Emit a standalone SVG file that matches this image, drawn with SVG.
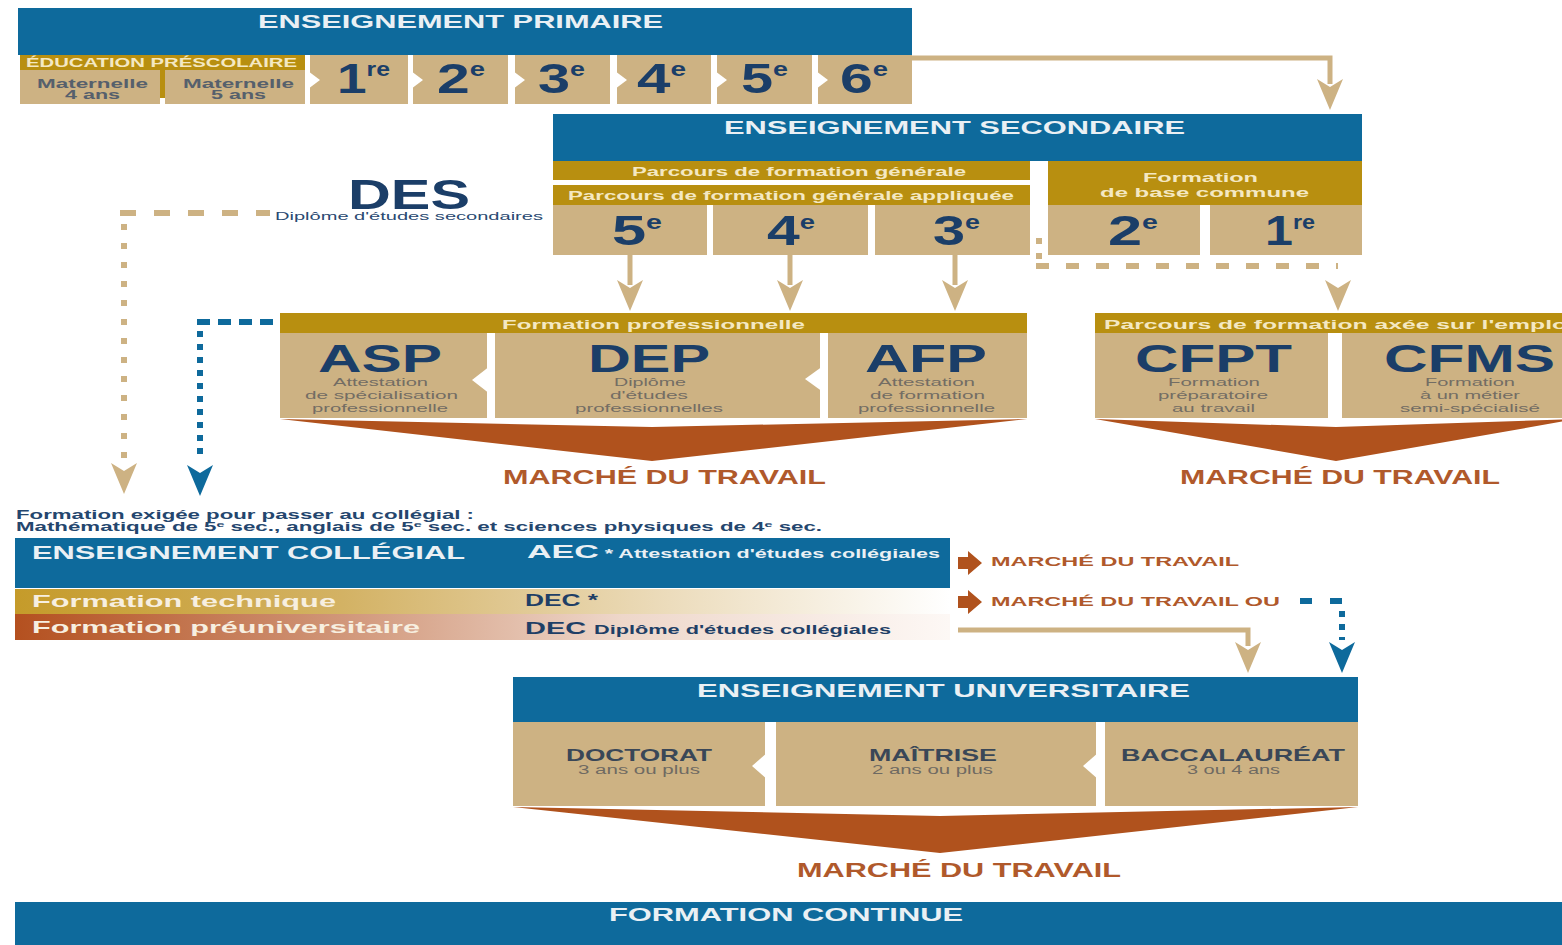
<svg xmlns="http://www.w3.org/2000/svg" width="1562" height="945" viewBox="0 0 1562 945">
<style>
text{font-family:"Liberation Sans",Arial,sans-serif}
.blue{fill:#0e6a9c}
.tan{fill:#cdb283}
.gold{fill:#b88f10}
.rust{fill:#b0521d}
.wh{fill:#ffffff}
.hd{font-weight:bold;font-size:19px;fill:#eaf0f4}
.gb{font-weight:bold;font-size:12px;fill:#f4e8c2}
.num{font-weight:bold;font-size:43px;fill:#1b3e68}
.sup{font-size:20px}
.acr{font-weight:bold;font-size:38px;fill:#1b3e68}
.sub{font-size:11.5px;fill:#736d64}
.mat{font-weight:bold;font-size:12.5px;fill:#56606c}
.mdt{font-weight:bold;font-size:20px;fill:#b0592b}
.mds{font-weight:bold;font-size:13px;fill:#b0592b}
.note{font-weight:bold;font-size:12.5px;fill:#24466e}
.ct{font-weight:bold;font-size:17px;fill:#f7efe0}
.dec{font-weight:bold;font-size:16px;fill:#1f3f66}
.decs{font-size:12px}
.uni{font-weight:bold;font-size:17px;fill:#3a4757}
.unis{font-size:12px;fill:#6f6a62}
.ctan{fill:none;stroke:#cdb283;stroke-width:5}
.dtan{fill:none;stroke:#cdb283;stroke-width:6}
.dblue{fill:none;stroke:#0e6a9c;stroke-width:6}
.ahT{fill:#cdb283}
.ahB{fill:#0e6a9c}
</style>
<defs>
<path id="ah" d="M-13,0 L0,8 L13,0 L0,31 Z"/>
<path id="ra" d="M0,6 L10,6 L10,0 L24,12 L10,24 L10,18 L0,18 Z"/>
<linearGradient id="gTech" x1="0" y1="0" x2="1" y2="0">
<stop offset="0" stop-color="#c59b2a"/>
<stop offset="0.35" stop-color="#d3b264"/>
<stop offset="0.7" stop-color="#ecdcbc"/>
<stop offset="1" stop-color="#ffffff"/>
</linearGradient>
<linearGradient id="gPre" x1="0" y1="0" x2="1" y2="0">
<stop offset="0" stop-color="#b4501f"/>
<stop offset="0.3" stop-color="#cc8c6c"/>
<stop offset="0.65" stop-color="#eed7ca"/>
<stop offset="1" stop-color="#fdf8f5"/>
</linearGradient>
</defs>
<rect width="1562" height="945" fill="#ffffff"/>

<g id="connectors">
<path class="ctan" d="M912,58 H1330 V84"/>
<use href="#ah" x="1330" y="79" class="ahT"/>
<path class="ctan" d="M630,255 V285"/>
<use href="#ah" x="630" y="280" class="ahT"/>
<path class="ctan" d="M790,255 V285"/>
<use href="#ah" x="790" y="280" class="ahT"/>
<path class="ctan" d="M955,255 V285"/>
<use href="#ah" x="955" y="280" class="ahT"/>
<path class="dtan" stroke-dasharray="6 9" d="M1039,238 V262"/>
<path class="dtan" stroke-dasharray="13 17" d="M1036,266 H1338"/>
<use href="#ah" x="1338" y="280" class="ahT"/>
<path class="dtan" stroke-dasharray="16 18" d="M120,213 H270"/>
<path class="dtan" stroke-dasharray="6 13" d="M124,224 V458"/>
<use href="#ah" x="124" y="463" class="ahT"/>
<path class="dblue" stroke-dasharray="13 8" d="M197,322 H276"/>
<path class="dblue" stroke-dasharray="6 7" d="M200,331 V458"/>
<use href="#ah" x="200" y="465" class="ahB"/>
<path class="ctan" d="M958,630 H1248 V646"/>
<use href="#ah" x="1248" y="642" class="ahT"/>
<path class="dblue" stroke-dasharray="12 18" d="M1300,601 H1345"/>
<path class="dblue" stroke-dasharray="6 7" d="M1342,611 V640"/>
<use href="#ah" x="1342" y="642" class="ahB"/>
</g>

<g id="primaire">
<rect class="blue" x="18" y="8" width="894" height="47"/>
<text class="hd" x="258" y="28" textLength="405" lengthAdjust="spacingAndGlyphs">ENSEIGNEMENT PRIMAIRE</text>
</g>
<g id="prescolaire">
<rect class="gold" x="20" y="55" width="285" height="15"/>
<text class="gb" x="26" y="67" font-size="11" textLength="271" lengthAdjust="spacingAndGlyphs">ÉDUCATION PRÉSCOLAIRE</text>
<rect class="tan" x="20" y="70" width="140" height="34"/>
<rect class="gold" x="160" y="70" width="5" height="28"/>
<rect class="tan" x="165" y="70" width="140" height="34"/>
<text class="mat" x="37" y="88" textLength="111" lengthAdjust="spacingAndGlyphs">Maternelle</text>
<text class="mat" x="65" y="99" textLength="55" lengthAdjust="spacingAndGlyphs">4 ans</text>
<text class="mat" x="183" y="88" textLength="111" lengthAdjust="spacingAndGlyphs">Maternelle</text>
<text class="mat" x="211" y="99" textLength="55" lengthAdjust="spacingAndGlyphs">5 ans</text>
</g>
<g id="p1"><rect class="tan" x="310" y="55" width="98" height="49"/><path class="wh" d="M308,71 L320,80 L308,89 Z"/><text class="num" x="337" y="93" textLength="53" lengthAdjust="spacingAndGlyphs">1<tspan class="sup" dy="-17">re</tspan></text></g>
<g id="p2"><rect class="tan" x="413" y="55" width="95" height="49"/><path class="wh" d="M411,71 L423,80 L411,89 Z"/><text class="num" x="437" y="93" textLength="48" lengthAdjust="spacingAndGlyphs">2<tspan class="sup" dy="-17">e</tspan></text></g>
<g id="p3"><rect class="tan" x="515" y="55" width="95" height="49"/><path class="wh" d="M513,71 L525,80 L513,89 Z"/><text class="num" x="538" y="93" textLength="47" lengthAdjust="spacingAndGlyphs">3<tspan class="sup" dy="-17">e</tspan></text></g>
<g id="p4"><rect class="tan" x="617" y="55" width="94" height="49"/><path class="wh" d="M615,71 L627,80 L615,89 Z"/><text class="num" x="637" y="93" textLength="49" lengthAdjust="spacingAndGlyphs">4<tspan class="sup" dy="-17">e</tspan></text></g>
<g id="p5"><rect class="tan" x="717" y="55" width="95" height="49"/><path class="wh" d="M715,71 L727,80 L715,89 Z"/><text class="num" x="741" y="93" textLength="47" lengthAdjust="spacingAndGlyphs">5<tspan class="sup" dy="-17">e</tspan></text></g>
<g id="p6"><rect class="tan" x="818" y="55" width="94" height="49"/><path class="wh" d="M816,71 L828,80 L816,89 Z"/><text class="num" x="840" y="93" textLength="48" lengthAdjust="spacingAndGlyphs">6<tspan class="sup" dy="-17">e</tspan></text></g>

<g id="secondaire">
<rect class="blue" x="553" y="114" width="809" height="47"/>
<text class="hd" x="724" y="134" textLength="461" lengthAdjust="spacingAndGlyphs">ENSEIGNEMENT SECONDAIRE</text>
</g>
<g id="pfg">
<rect class="gold" x="553" y="161" width="477" height="19"/>
<text class="gb" x="632" y="176" font-size="12.5" textLength="334" lengthAdjust="spacingAndGlyphs">Parcours de formation générale</text>
</g>
<g id="pfga">
<rect class="gold" x="553" y="185" width="477" height="20"/>
<text class="gb" x="568" y="200" font-size="12.5" textLength="446" lengthAdjust="spacingAndGlyphs">Parcours de formation générale appliquée</text>
</g>
<g id="fbc">
<rect class="gold" x="1048" y="161" width="314" height="44"/>
<text class="gb" x="1143" y="182" font-size="12.5" textLength="115" lengthAdjust="spacingAndGlyphs">Formation</text>
<text class="gb" x="1100" y="197" font-size="12.5" textLength="209" lengthAdjust="spacingAndGlyphs">de base commune</text>
</g>
<g id="s5"><rect class="tan" x="553" y="205" width="154" height="50"/><text class="num" x="612" y="245" font-size="42" textLength="50" lengthAdjust="spacingAndGlyphs">5<tspan class="sup" dy="-16">e</tspan></text></g>
<g id="s4"><rect class="tan" x="713" y="205" width="155" height="50"/><text class="num" x="767" y="245" font-size="42" textLength="48" lengthAdjust="spacingAndGlyphs">4<tspan class="sup" dy="-16">e</tspan></text></g>
<g id="s3"><rect class="tan" x="875" y="205" width="155" height="50"/><text class="num" x="933" y="245" font-size="42" textLength="47" lengthAdjust="spacingAndGlyphs">3<tspan class="sup" dy="-16">e</tspan></text></g>
<g id="s2"><rect class="tan" x="1048" y="205" width="152" height="50"/><text class="num" x="1108" y="245" font-size="42" textLength="50" lengthAdjust="spacingAndGlyphs">2<tspan class="sup" dy="-16">e</tspan></text></g>
<g id="s1"><rect class="tan" x="1210" y="205" width="152" height="50"/><text class="num" x="1265" y="245" font-size="42" textLength="50" lengthAdjust="spacingAndGlyphs">1<tspan class="sup" dy="-16">re</tspan></text></g>

<g id="des">
<text class="num" x="348" y="209" font-size="39" textLength="122" lengthAdjust="spacingAndGlyphs">DES</text>
<text x="275" y="220" font-size="11" fill="#2a4a72" textLength="268" lengthAdjust="spacingAndGlyphs">Diplôme d'études secondaires</text>
</g>

<g id="formation-pro">
<rect class="gold" x="280" y="313" width="747" height="20"/>
<text class="gb" x="502" y="329" font-size="13" textLength="303" lengthAdjust="spacingAndGlyphs">Formation professionnelle</text>
<path class="rust" d="M280,419 L652,427 L1027,419 L652,461 Z"/>
<text class="mdt" x="503" y="484" textLength="323" lengthAdjust="spacingAndGlyphs">MARCHÉ DU TRAVAIL</text>
</g>
<g id="asp">
<rect class="tan" x="280" y="333" width="207" height="85"/>
<path class="wh" d="M490,366 L472,380 L490,394 Z"/>
<text class="acr" x="318" y="372" textLength="124" lengthAdjust="spacingAndGlyphs">ASP</text>
<text class="sub" x="333" y="386" textLength="95" lengthAdjust="spacingAndGlyphs">Attestation</text>
<text class="sub" x="305" y="399" textLength="153" lengthAdjust="spacingAndGlyphs">de spécialisation</text>
<text class="sub" x="312" y="412" textLength="136" lengthAdjust="spacingAndGlyphs">professionnelle</text>
</g>
<g id="dep">
<rect class="tan" x="495" y="333" width="325" height="85"/>
<path class="wh" d="M823,366 L805,379 L823,392 Z"/>
<text class="acr" x="588" y="372" textLength="122" lengthAdjust="spacingAndGlyphs">DEP</text>
<text class="sub" x="614" y="386" textLength="72" lengthAdjust="spacingAndGlyphs">Diplôme</text>
<text class="sub" x="610" y="399" textLength="78" lengthAdjust="spacingAndGlyphs">d'études</text>
<text class="sub" x="575" y="412" textLength="148" lengthAdjust="spacingAndGlyphs">professionnelles</text>
</g>
<g id="afp">
<rect class="tan" x="828" y="333" width="199" height="85"/>
<text class="acr" x="865" y="372" textLength="122" lengthAdjust="spacingAndGlyphs">AFP</text>
<text class="sub" x="878" y="386" textLength="97" lengthAdjust="spacingAndGlyphs">Attestation</text>
<text class="sub" x="870" y="399" textLength="115" lengthAdjust="spacingAndGlyphs">de formation</text>
<text class="sub" x="858" y="412" textLength="137" lengthAdjust="spacingAndGlyphs">professionnelle</text>
</g>

<g id="pfae">
<rect class="gold" x="1095" y="313" width="467" height="20"/>
<text class="gb" x="1104" y="329" font-size="13" textLength="470" lengthAdjust="spacingAndGlyphs">Parcours de formation axée sur l'emploi</text>
<path class="rust" d="M1095,419 L1336,427 L1577,419 L1336,461 Z"/>
<text class="mdt" x="1180" y="484" textLength="320" lengthAdjust="spacingAndGlyphs">MARCHÉ DU TRAVAIL</text>
</g>
<g id="cfpt">
<rect class="tan" x="1095" y="333" width="233" height="85"/>
<text class="acr" x="1135" y="372" textLength="157" lengthAdjust="spacingAndGlyphs">CFPT</text>
<text class="sub" x="1168" y="386" textLength="92" lengthAdjust="spacingAndGlyphs">Formation</text>
<text class="sub" x="1158" y="399" textLength="110" lengthAdjust="spacingAndGlyphs">préparatoire</text>
<text class="sub" x="1172" y="412" textLength="83" lengthAdjust="spacingAndGlyphs">au travail</text>
</g>
<g id="cfms">
<rect class="tan" x="1342" y="333" width="220" height="85"/>
<text class="acr" x="1384" y="372" textLength="171" lengthAdjust="spacingAndGlyphs">CFMS</text>
<text class="sub" x="1425" y="386" textLength="90" lengthAdjust="spacingAndGlyphs">Formation</text>
<text class="sub" x="1420" y="399" textLength="100" lengthAdjust="spacingAndGlyphs">à un métier</text>
<text class="sub" x="1400" y="412" textLength="140" lengthAdjust="spacingAndGlyphs">semi-spécialisé</text>
</g>

<g id="note">
<text class="note" x="16" y="519" textLength="458" lengthAdjust="spacingAndGlyphs">Formation exigée pour passer au collégial :</text>
<text class="note" x="16" y="531" textLength="806" lengthAdjust="spacingAndGlyphs">Mathématique de 5<tspan font-size="8" dy="-4">e</tspan><tspan dy="4"> sec., anglais de 5</tspan><tspan font-size="8" dy="-4">e</tspan><tspan dy="4"> sec. et sciences physiques de 4</tspan><tspan font-size="8" dy="-4">e</tspan><tspan dy="4"> sec.</tspan></text>
</g>

<g id="collegial">
<rect class="blue" x="15" y="538" width="935" height="50"/>
<text class="hd" x="32" y="559" textLength="433" lengthAdjust="spacingAndGlyphs">ENSEIGNEMENT COLLÉGIAL</text>
<text class="hd" x="527" y="558" font-size="16" textLength="413" lengthAdjust="spacingAndGlyphs">AEC<tspan font-size="12"> * Attestation d'études collégiales</tspan></text>
</g>
<g id="technique">
<rect x="15" y="589" width="935" height="25" fill="url(#gTech)"/>
<text class="ct" x="32" y="607" textLength="304" lengthAdjust="spacingAndGlyphs">Formation technique</text>
<text class="dec" x="525" y="606" textLength="73" lengthAdjust="spacingAndGlyphs">DEC *</text>
</g>
<g id="preuniversitaire">
<rect x="15" y="614" width="935" height="26" fill="url(#gPre)"/>
<text class="ct" x="32" y="633" textLength="388" lengthAdjust="spacingAndGlyphs">Formation préuniversitaire</text>
<text class="dec" x="525" y="634" textLength="366" lengthAdjust="spacingAndGlyphs">DEC <tspan class="decs">Diplôme d'études collégiales</tspan></text>
</g>
<g id="marche-aec">
<use href="#ra" x="958" y="551" class="rust"/>
<text class="mds" x="991" y="566" textLength="248" lengthAdjust="spacingAndGlyphs">MARCHÉ DU TRAVAIL</text>
</g>
<g id="marche-dec">
<use href="#ra" x="958" y="590" class="rust"/>
<text class="mds" x="991" y="606" textLength="289" lengthAdjust="spacingAndGlyphs">MARCHÉ DU TRAVAIL OU</text>
</g>

<g id="universitaire">
<rect class="blue" x="513" y="677" width="845" height="45"/>
<text class="hd" x="697" y="697" textLength="493" lengthAdjust="spacingAndGlyphs">ENSEIGNEMENT UNIVERSITAIRE</text>
<path class="rust" d="M513,807 L940,816 L1358,807 L940,853 Z"/>
<text class="mdt" x="797" y="877" textLength="324" lengthAdjust="spacingAndGlyphs">MARCHÉ DU TRAVAIL</text>
</g>
<g id="doctorat">
<rect class="tan" x="513" y="722" width="252" height="84"/>
<path class="wh" d="M768,752 L752,766 L768,780 Z"/>
<text class="uni" x="566" y="761" textLength="146" lengthAdjust="spacingAndGlyphs">DOCTORAT</text>
<text class="unis" x="578" y="774" textLength="122" lengthAdjust="spacingAndGlyphs">3 ans ou plus</text>
</g>
<g id="maitrise">
<rect class="tan" x="776" y="722" width="320" height="84"/>
<path class="wh" d="M1099,752 L1083,766 L1099,780 Z"/>
<text class="uni" x="869" y="761" textLength="128" lengthAdjust="spacingAndGlyphs">MAÎTRISE</text>
<text class="unis" x="872" y="774" textLength="121" lengthAdjust="spacingAndGlyphs">2 ans ou plus</text>
</g>
<g id="baccalaureat">
<rect class="tan" x="1105" y="722" width="253" height="84"/>
<text class="uni" x="1121" y="761" textLength="224" lengthAdjust="spacingAndGlyphs">BACCALAURÉAT</text>
<text class="unis" x="1187" y="774" textLength="93" lengthAdjust="spacingAndGlyphs">3 ou 4 ans</text>
</g>

<g id="formation-continue">
<rect class="blue" x="15" y="902" width="1547" height="43"/>
<text class="hd" x="609" y="921" font-size="18" textLength="354" lengthAdjust="spacingAndGlyphs">FORMATION CONTINUE</text>
</g>
</svg>
